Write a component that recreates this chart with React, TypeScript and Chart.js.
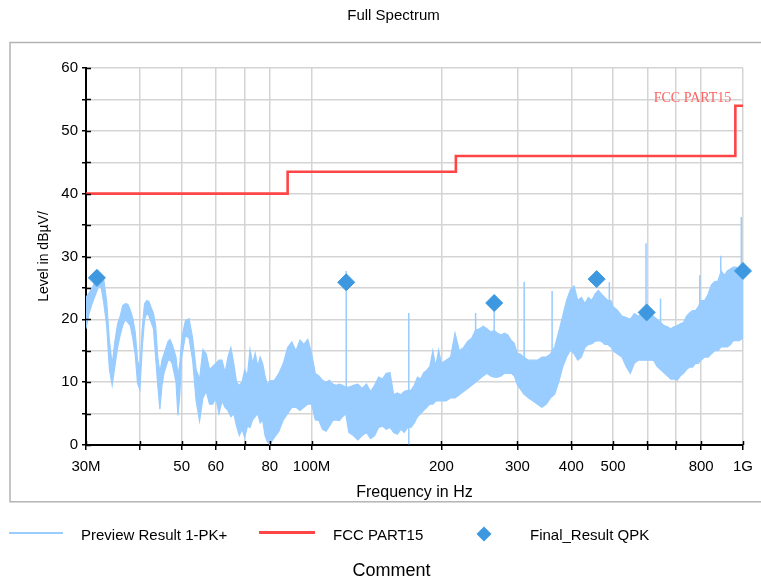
import React, { useEffect, useRef } from 'react';
import { Chart, registerables } from 'chart.js';

Chart.register(...registerables);

// ---- Preview Result 1-PK+ (envelope: freq MHz, low dB, high dB)
const previewFreq = [
  30, 30.5, 31, 31.5, 32, 32.5, 33, 33.5, 34, 34.5, 35, 35.5, 36, 36.5, 37, 37.5, 38, 38.5, 39, 39.5,
  40, 40.5, 41, 41.5, 42, 42.5, 43, 43.5, 44, 44.5, 45, 45.5, 46, 46.5, 47, 47.5, 48, 48.5, 49, 49.5,
  50, 51, 52, 53, 54, 55, 56, 57, 58, 59, 60, 61, 62, 63, 64, 65, 66, 67, 68, 69,
  70, 71, 72, 73, 74, 75, 76, 77, 78, 79, 80, 82, 84, 86, 88, 90, 92, 94, 96, 98,
  100, 102, 104, 106, 108, 110, 112, 114, 116, 118, 120, 122, 125, 128, 131, 134, 137, 140, 143, 146,
  149, 152, 155, 158, 161, 164, 167, 170, 173, 176, 179, 182, 185, 188, 191, 194, 197, 200, 205, 210,
  215, 220, 225, 230, 235, 240, 245, 250, 255, 260, 265, 270, 275, 280, 285, 290, 295, 300, 304, 310,
  318, 326, 334, 342, 350, 358, 366, 374, 382, 390, 398, 406, 414, 422, 430, 438, 446, 454, 462, 470,
  478, 486, 494, 500, 512, 524, 536, 548, 560, 572, 584, 596, 608, 620, 632, 644, 656, 668, 680, 692,
  704, 716, 728, 740, 752, 764, 776, 788, 800, 815, 830, 845, 860, 875, 890, 905, 920, 935, 950, 965,
  980, 1000,
];
const previewLow = [
  18.5, 21, 22.5, 23.8, 25, 25.3, 22.5, 19, 12, 9.5, 12.5, 15.5, 17.5, 19, 20, 19.5, 19, 17, 14.5, 9.8,
  8.8, 15.5, 20, 21, 20.5, 19.5, 18.5, 14, 9.5, 5.7, 9.5, 11.5, 12.5, 13.5, 13.5, 13, 11.5, 10, 4.7, 8,
  14, 17.5, 17, 13.5, 7, 3.8, 7.5, 8.5, 6.5, 6.5, 7.5, 5, 7, 6, 5.5, 4.5, 5, 3, 1.5, 2.5,
  1.2, 3, 2.8, 4, 4.5, 5, 3.5, 4, 1.5, 0.5, 0.1, 1.2, 2.2, 4, 5, 6, 6, 5.5, 6, 6.5,
  6.5, 4, 3.9, 2.5, 2.2, 3, 3.9, 4, 3.9, 4.5, 5, 2, 1.5, 0.8, 1.5, 2, 1, 1.5, 2.8, 3,
  2.5, 2.8, 2, 1.7, 2.5, 2, 2.8, 2.8, 3.5, 4.5, 5, 5.5, 6, 6.5, 6.5, 7, 7, 7, 7, 7.5,
  7.5, 8, 8.5, 9, 9.5, 10, 10.5, 11, 11.4, 11, 10.8, 10.8, 11, 11.4, 11.4, 11.4, 11, 9.5, 9, 8.2,
  7.5, 7, 6.5, 6, 6.5, 7.5, 8.1, 10, 12.4, 14, 15.1, 14.5, 13.5, 14, 15.5, 16, 16.1, 16.5, 16.6, 16.5,
  16, 16, 15.6, 15, 14.5, 14, 12.5, 11.4, 13, 13.5, 13.5, 13.5, 13.5, 13.5, 12.5, 12, 11.5, 11, 10.5, 10.5,
  10.3, 11, 11.4, 12, 12.4, 12.4, 13, 13, 13.5, 14, 14, 14.5, 15, 15, 15.6, 15.6, 15.6, 16, 16.6, 16.6,
  16.6, 17,
];
const previewHigh = [
  23.5, 24.2, 25, 26, 26.6, 27.2, 26.2, 22.8, 16.5, 12.8, 16.5, 19.2, 20.5, 22.2, 22.5, 22.4, 21.5, 20.2, 18, 13.5,
  12, 18.5, 22.5, 23, 22.8, 21.8, 21, 19, 14, 11.5, 13.5, 14.5, 15.5, 16.5, 16.8, 16, 15, 14, 11, 13,
  17, 19.8, 20.1, 17, 12, 10.5, 15.2, 14.5, 12, 12.5, 13, 13.5, 13.5, 11.5, 14, 15.5, 13, 10, 9.5, 10,
  12, 11, 15.2, 13, 14.6, 12.5, 14, 13, 11, 9.5, 10.2, 10.3, 11.4, 13, 15.5, 16.4, 15, 16.7, 16, 16.8,
  14.6, 11.4, 11, 10.3, 10, 10.3, 9.7, 9.5, 9.7, 9.5, 9.2, 9.2, 9.5, 9.7, 9, 9.7, 8.5, 9.5, 10.8, 10.5,
  11.4, 11.5, 8, 8.3, 8, 8.5, 8.7, 8.7, 9.5, 10.8, 10.5, 11.5, 11.9, 12.5, 15, 12.5, 15.1, 13, 13.5, 14,
  17.8, 15, 15.5, 16.5, 17, 18.3, 18.5, 18.9, 18.5, 18, 18.2, 17.8, 17.5, 17.8, 17.5, 16.7, 16.2, 14.5, 14.5, 14,
  13.5, 13.5, 13.5, 14, 14, 14.5, 15.6, 18, 20.5, 23, 24.7, 25.3, 23, 23.5, 22.5, 23.5, 23, 24, 24.6, 24,
  23.5, 23, 23, 22, 21.4, 20.5, 20.3, 20, 20.9, 20.5, 21, 20.5, 20.9, 20.5, 20, 19.5, 19, 18.8, 18.5, 18.8,
  19, 19.3, 19.5, 20.5, 21, 21.4, 21.4, 22, 23, 23, 24, 25.5, 26, 26.1, 27.7, 27, 27.7, 28, 28.3, 28.3,
  27.5, 27.2,
];

// narrow spikes of the preview trace
const spikeFreq = [120.3, 168, 240, 265, 311, 361, 490, 596, 644, 794, 888, 991];
const spikeBase = [5, 0.1, 11, 12, 8, 8, 16, 14, 12, 13.5, 15.6, 17];
const spikeTop = [27.7, 21, 21, 21.5, 26, 24.5, 25.9, 32.1, 23.3, 27, 30.1, 36.3];

// ---- FCC PART15 limit (stepped)
const limitFreq = [30, 88, 216, 960, 1000];
const limitLevel = [40, 43.5, 46, 54, 54];

// ---- Final_Result QPK
const qpkFreq = [31.8, 120.3, 265, 458, 598, 1000];
const qpkLevel = [26.6, 25.9, 22.6, 26.4, 21.1, 27.7];

// ---- axis ticks
const xTickValues = [30, 40, 50, 60, 70, 80, 100, 200, 300, 400, 500, 600, 700, 800, 1000];
const xTickLabels = ['30M', '', '50', '60', '', '80', '100M', '200', '300', '400', '500', '', '', '800', '1G'];
const yTickValues = [0, 5, 10, 15, 20, 25, 30, 35, 40, 45, 50, 55, 60];
const yTickLabels = ['0', '', '10', '', '20', '', '30', '', '40', '', '50', '', '60'];

const FONT = '"Liberation Sans", Arial, sans-serif';
const TRACE = '#99ccff';
const RED = '#ff4646';
const DIAMOND = '#3d98df';

const decorPlugin = {
  id: 'decor',
  beforeDraw(chart: any) {
    const ctx = chart.ctx;
    ctx.save();
    ctx.strokeStyle = '#b4b4b4';
    ctx.lineWidth = 1.5;
    ctx.strokeRect(10, 42.5, 760, 459.3);
    ctx.restore();
  },
  afterDraw(chart: any) {
    const ctx = chart.ctx;
    const xs = chart.scales.x;
    const ys = chart.scales.y;
    const area = chart.chartArea;
    ctx.save();
    // inner halves of the crossing tick marks
    ctx.strokeStyle = '#000';
    ctx.lineWidth = 1.5;
    ctx.beginPath();
    yTickValues.forEach((v) => {
      const py = Math.round(ys.getPixelForValue(v)) + 0.5;
      ctx.moveTo(area.left, py);
      ctx.lineTo(area.left + 5, py);
    });
    xTickValues.forEach((v) => {
      const px = Math.round(xs.getPixelForValue(v)) + 0.5;
      ctx.moveTo(px, area.bottom);
      ctx.lineTo(px, area.bottom - 4);
    });
    ctx.stroke();

    // limit label
    ctx.fillStyle = '#ff6262';
    ctx.font = '14px "Liberation Serif", "DejaVu Serif", serif';
    ctx.textAlign = 'right';
    ctx.textBaseline = 'alphabetic';
    ctx.fillText('FCC PART15', xs.getPixelForValue(limitFreq[3]) - 4, ys.getPixelForValue(limitLevel[3]) - 4);

    // title
    ctx.fillStyle = '#000';
    ctx.font = '15px ' + FONT;
    ctx.textAlign = 'center';
    ctx.fillText('Full Spectrum', 393.5, 19.5);

    // legend
    ctx.textAlign = 'left';
    ctx.font = '15px ' + FONT;
    ctx.strokeStyle = TRACE;
    ctx.lineWidth = 2;
    ctx.beginPath();
    ctx.moveTo(9, 533);
    ctx.lineTo(63, 533);
    ctx.stroke();
    ctx.fillText(chart.data.datasets[0].label, 81, 539.5);

    ctx.strokeStyle = RED;
    ctx.lineWidth = 3;
    ctx.beginPath();
    ctx.moveTo(259, 532.5);
    ctx.lineTo(315, 532.5);
    ctx.stroke();
    ctx.fillText(chart.data.datasets[3].label, 333, 539.5);

    ctx.fillStyle = DIAMOND;
    ctx.beginPath();
    ctx.moveTo(484, 526.5);
    ctx.lineTo(491.5, 534);
    ctx.lineTo(484, 541.5);
    ctx.lineTo(476.5, 534);
    ctx.closePath();
    ctx.fill();
    ctx.fillStyle = '#000';
    ctx.fillText(chart.data.datasets[4].label, 530, 539.5);

    ctx.textAlign = 'center';
    ctx.font = '18px ' + FONT;
    ctx.fillText('Comment', 391.5, 576);
    ctx.restore();
  },
};

export default function App() {
  const ref = useRef<HTMLCanvasElement>(null);

  useEffect(() => {
    const highPoints = previewFreq.map((f, i) => ({ x: f, y: previewHigh[i] }));
    const lowPoints = previewFreq.map((f, i) => ({ x: f, y: previewLow[i] }));
    const spikePoints: any[] = [];
    spikeFreq.forEach((f, i) => {
      spikePoints.push({ x: f, y: spikeBase[i] }, { x: f, y: spikeTop[i] }, { x: f, y: null });
    });
    const limitPoints = limitFreq.map((f, i) => ({ x: f, y: limitLevel[i] }));
    const qpkPoints = qpkFreq.map((f, i) => ({ x: f, y: qpkLevel[i] }));

    const chart = new Chart(ref.current as HTMLCanvasElement, {
      type: 'line',
      data: {
        datasets: [
          {
            label: 'Preview Result 1-PK+',
            data: highPoints,
            borderColor: TRACE,
            backgroundColor: TRACE,
            borderWidth: 1.2,
            pointRadius: 0,
            tension: 0,
            fill: '+1',
            order: 3,
          },
          {
            label: 'Preview Result 1-PK+ (low)',
            data: lowPoints,
            borderColor: TRACE,
            backgroundColor: TRACE,
            borderWidth: 1.2,
            pointRadius: 0,
            tension: 0,
            fill: false,
            order: 3,
          },
          {
            label: 'spikes',
            data: spikePoints,
            borderColor: TRACE,
            borderWidth: 1.5,
            pointRadius: 0,
            spanGaps: false,
            fill: false,
            order: 3,
          },
          {
            label: 'FCC PART15',
            data: limitPoints,
            borderColor: RED,
            borderWidth: 2.6,
            pointRadius: 0,
            stepped: 'before',
            fill: false,
            order: 1,
          },
          {
            label: 'Final_Result QPK',
            data: qpkPoints,
            showLine: false,
            pointStyle: 'rectRot',
            pointRadius: 8.5,
            pointBackgroundColor: DIAMOND,
            pointBorderColor: DIAMOND,
            borderColor: DIAMOND,
            backgroundColor: DIAMOND,
            clip: false,
            order: 0,
          },
        ] as any,
      },
      options: {
        responsive: false,
        animation: false,
        devicePixelRatio: 1,
        events: [],
        layout: { padding: { left: 0, top: 68, right: 16, bottom: 79 } },
        plugins: {
          legend: { display: false },
          title: { display: false },
          tooltip: { enabled: false },
          filler: { propagate: false },
        },
        scales: {
          x: {
            type: 'logarithmic',
            min: 30,
            max: 1000,
            afterFit: (s: any) => {
              s.height = 60;
            },
            afterBuildTicks: (s: any) => {
              s.ticks = xTickValues.map((v) => ({ value: v }));
            },
            ticks: {
              autoSkip: false,
              maxRotation: 0,
              minRotation: 0,
              padding: 8,
              color: '#000',
              font: { size: 15, family: FONT },
              callback: (v: any) => {
                const i = xTickValues.indexOf(Number(v));
                return i >= 0 ? xTickLabels[i] : '';
              },
            },
            grid: {
              color: '#d4d4d4',
              lineWidth: 1.5,
              tickColor: '#000',
              tickLength: 5,
              tickWidth: 1.5,
            },
            border: { color: '#000', width: 2 },
            title: {
              display: true,
              text: 'Frequency in Hz',
              color: '#000',
              font: { size: 16, family: FONT },
              padding: { top: 0, bottom: 3 },
            },
          },
          y: {
            type: 'linear',
            min: 0,
            max: 60,
            afterFit: (s: any) => {
              s.width = 86;
            },
            afterBuildTicks: (s: any) => {
              s.ticks = yTickValues.map((v) => ({ value: v }));
            },
            ticks: {
              padding: 4,
              color: '#000',
              font: { size: 15, family: FONT },
              callback: (v: any) => {
                const i = yTickValues.indexOf(Number(v));
                return i >= 0 ? yTickLabels[i] : '';
              },
            },
            grid: {
              color: '#d4d4d4',
              lineWidth: 1.5,
              tickColor: '#000',
              tickLength: 4,
              tickWidth: 1.5,
            },
            border: { color: '#000', width: 2 },
            title: {
              display: true,
              text: 'Level in dBµV/',
              color: '#000',
              font: { size: 14, family: FONT },
              padding: { top: 36, bottom: 0 },
            },
          },
        },
      } as any,
      plugins: [decorPlugin],
    });
    return () => chart.destroy();
  }, []);

  return (
    <div style={{ position: 'absolute', left: 0, top: 0, width: 761, height: 584, background: '#fff' }}>
      <canvas ref={ref} width={761} height={584} style={{ display: 'block', width: 761, height: 584 }} />
    </div>
  );
}
